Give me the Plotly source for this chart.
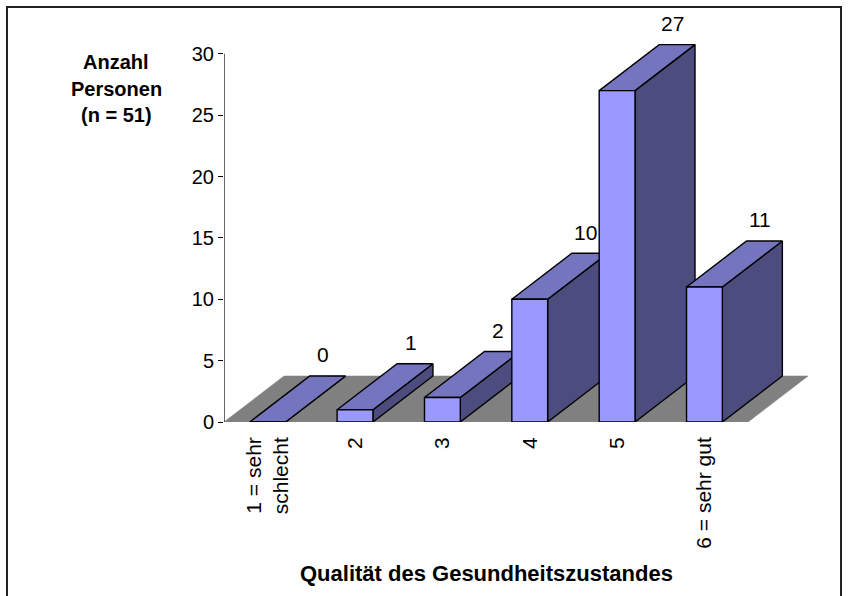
import plotly.graph_objects as go

# ---- data -------------------------------------------------------------
categories = ["1 = sehr<br>schlecht", "2", "3", "4", "5", "6 = sehr gut"]
counts = [0, 1, 2, 10, 27, 11]
y_ticks = [0, 5, 10, 15, 20, 25, 30]

x_title = "Qualität des Gesundheitszustandes"
y_title_lines = ["Anzahl", "Personen", "(n = 51)"]

# ---- layout constants -------------------------------------------------
W, H = 848, 596
ML, MR, MT, MB = 224, 30, 17, 174
X_RANGE = [-0.5, 6.3]
Y_RANGE = [0, 33]
PLOT_W = W - ML - MR
PLOT_H = H - MT - MB

BAR_W = 0.41      # front face width in category units
DEPTH_X = 0.687   # oblique depth offset (category units)
DEPTH_Y = 3.75    # oblique depth offset (value units)

FRONT = "#9999FF"
TOP = "#7474BF"
SIDE = "#4C4C7E"
FLOOR = "#808080"
FONT = "Liberation Sans, Arial, sans-serif"

fig = go.Figure()


def face(xs, ys, color, line_color="black", lw=1.4):
    fig.add_trace(go.Scatter(
        x=xs + [xs[0]], y=ys + [ys[0]], mode="lines", fill="toself",
        fillcolor=color, line=dict(color=line_color, width=lw),
        hoverinfo="skip", showlegend=False))


# floor of the 3-D plot
n = len(counts)
fx0, fx1 = -0.5, n - 0.5
face([fx0, fx1, fx1 + DEPTH_X, fx0 + DEPTH_X], [0, 0, DEPTH_Y, DEPTH_Y],
     FLOOR, line_color=FLOOR, lw=0.5)

# oblique 3-D columns, drawn left to right so later ones overlap earlier ones
for i, v in enumerate(counts):
    left, right = i - BAR_W / 2, i + BAR_W / 2
    face([right, right + DEPTH_X, right + DEPTH_X, right],
         [0, DEPTH_Y, v + DEPTH_Y, v], SIDE)
    face([left, right, right + DEPTH_X, left + DEPTH_X],
         [v, v, v + DEPTH_Y, v + DEPTH_Y], TOP)
    face([left, right, right, left], [0, 0, v, v], FRONT)

annotations = []
# value labels above the back edge of each column top
for i, v in enumerate(counts):
    annotations.append(dict(
        x=i + DEPTH_X - 0.05, y=v + DEPTH_Y, xref="x", yref="y", text=str(v),
        showarrow=False, yshift=21, xanchor="center",
        font=dict(family=FONT, size=21, color="black")))

# value-axis title, one line per annotation
for k, line in enumerate(y_title_lines):
    annotations.append(dict(
        x=(116 - ML) / PLOT_W, y=(H - MB - (62 + 26.5 * k)) / PLOT_H,
        xref="paper", yref="paper", text=line, showarrow=False,
        xanchor="center", yanchor="middle",
        font=dict(family=FONT, size=20, color="black", weight="bold")))

# category-axis title
annotations.append(dict(
    x=(486 - ML) / PLOT_W, y=(H - MB - 573) / PLOT_H,
    xref="paper", yref="paper", text=x_title, showarrow=False,
    xanchor="center", yanchor="middle",
    font=dict(family=FONT, size=22, color="black", weight="bold")))

shapes = [
    # value axis line
    dict(type="line", xref="x", yref="y", x0=X_RANGE[0], x1=X_RANGE[0],
         y0=0, y1=y_ticks[-1], line=dict(color="black", width=1.2)),
    # chart-area frame
    dict(type="rect", xref="paper", yref="paper",
         x0=(7 - ML) / PLOT_W, x1=(841 - ML) / PLOT_W,
         y0=(H - MB - (H + 10)) / PLOT_H, y1=(H - MB - 7) / PLOT_H,
         line=dict(color="#222222", width=2), fillcolor="rgba(0,0,0,0)"),
]

fig.update_layout(
    width=W, height=H,
    margin=dict(l=ML, r=MR, t=MT, b=MB, autoexpand=False),
    paper_bgcolor="white", plot_bgcolor="white",
    showlegend=False,
    annotations=annotations, shapes=shapes,
    xaxis=dict(range=X_RANGE, tickvals=list(range(n)), ticktext=categories,
               tickangle=-90, ticks="", showline=False, showgrid=False,
               zeroline=False, ticklabelstandoff=10,
               tickfont=dict(family=FONT, size=21, color="black"),
               fixedrange=True),
    yaxis=dict(range=Y_RANGE, tickvals=y_ticks, ticks="outside", ticklen=5,
               tickcolor="black", showline=False, showgrid=False,
               zeroline=False, tickfont=dict(family=FONT, size=20, color="black"),
               fixedrange=True),
)

fig.write_html("out.html")
